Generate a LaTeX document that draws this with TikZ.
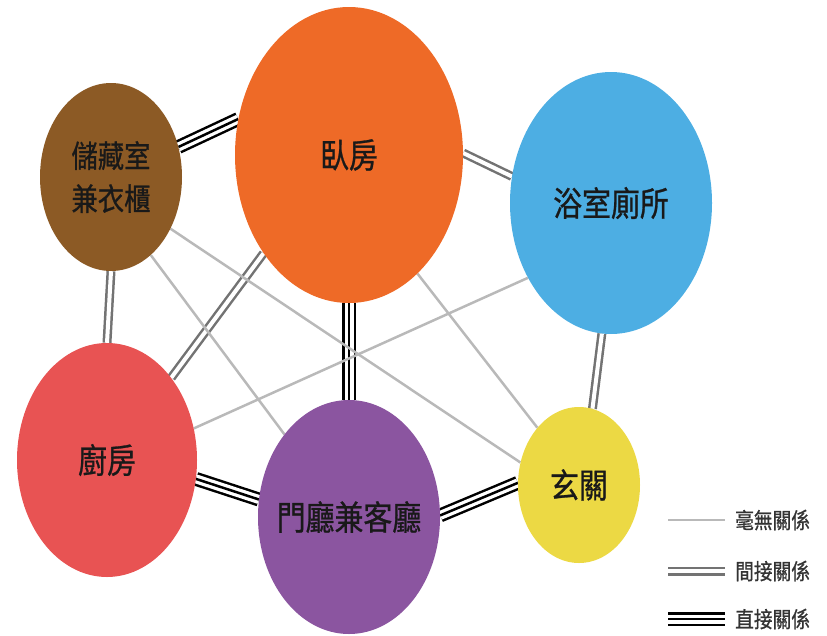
\documentclass[tikz,border=0pt]{standalone}
\usepackage{fontspec}
\newfontfamily\cjk[FakeStretch=0.85, FakeBold=0.8]{Noto Sans CJK TC}
\usetikzlibrary{shapes.geometric,positioning,backgrounds}

\definecolor{storebrown}{RGB}{140,90,37}
\definecolor{bedorange}{RGB}{238,106,39}
\definecolor{bathblue}{RGB}{77,174,227}
\definecolor{kitchenred}{RGB}{232,83,83}
\definecolor{livingpurple}{RGB}{139,85,160}
\definecolor{entryyellow}{RGB}{236,217,68}

\begin{document}
\begin{tikzpicture}[
      x=1pt, y=-1pt, on grid,
      room/.style={ellipse, draw=none, inner sep=0pt},
      tag/.style={font=\cjk\fontsize{34}{43}\selectfont, text=black!90, align=center},
      keytext/.style={font=\cjk\fontsize{22}{26}\selectfont, text=black!80, inner sep=0pt},
      unrelated/.style={line width=2.5pt, gray!55},
      indirect/.style={line width=2.5pt, draw=black!55, double=white, double distance=4pt},
      direct/.style={line width=14pt, black,
        postaction={draw, white, line width=9pt},
        postaction={draw, black, line width=2.5pt}}
      ]

	  \useasboundingbox (0,0) rectangle (827,635);

	  \node[room, fill=storebrown, minimum width=142pt, minimum height=188pt,
	    label={[tag, font=\cjk\fontsize{31}{43}\selectfont]center:{儲藏室\\兼衣櫃}}] (st) at (111,177) {};
	  \node[room, fill=bedorange, minimum width=228pt, minimum height=296pt,
	    label={[tag]center:臥房}, above right = 22pt and 238pt of st] (bd) {};
	  \node[room, fill=bathblue, minimum width=202pt, minimum height=262pt,
	    label={[tag]center:浴室廁所}, below right = 48pt and 262pt of bd] (ba) {};
	  \node[room, fill=kitchenred, minimum width=180pt, minimum height=234pt,
	    label={[tag]center:廚房}, below left = 283pt and 4pt of st] (ki) {};
	  \node[room, fill=livingpurple, minimum width=182pt, minimum height=234pt,
	    label={[tag]center:門廳兼客廳}, below = 362pt of bd] (lv) {};
	  \node[room, fill=entryyellow, minimum width=122pt, minimum height=156pt,
	    label={[tag]center:玄關}, above right = 32pt and 230pt of lv] (en) {};

	  % legend
	  \node[keytext, anchor=west] (k1) at (735,520) {毫無關係};
	  \node[keytext, anchor=west] (k2) at (735,571) {間接關係};
	  \node[keytext, anchor=west] (k3) at (735,619) {直接關係};
	  \coordinate (k1a) at (668,520);
	  \coordinate (k2a) at (668,571);
	  \coordinate (k3a) at (668,619);

  % Connect the rooms

  \begin{scope}[on background layer]
  \draw[direct] (st.24) -- (bd.162);
  \draw[direct] (bd.-90) -- (lv.90);
  \draw[direct] (ki.-12) -- (lv.169);
  \draw[direct] (lv.1) -- (en.178);
  \draw[indirect] (bd.1) -- (ba.165);
  \draw[indirect] (ba.-94) -- (en.80);
  \draw[indirect] (st.-90) -- (ki.90);
  \draw[indirect] (bd.229) -- (ki.52);
  \draw[unrelated] (st.-63) -- (lv.128);
  \draw[unrelated] (st.-41) -- (en.159);
  \draw[unrelated] (ki.20) -- (ba.-138);
  \draw[unrelated] (bd.-60) -- (en.126);
  \end{scope}

  \draw[unrelated, shorten >= 10pt] (k1a) -- (k1.west);
  \draw[indirect, shorten >= 10pt] (k2a) -- (k2.west);
  \draw[direct, shorten >= 10pt] (k3a) -- (k3.west);

\end{tikzpicture}
\end{document}
